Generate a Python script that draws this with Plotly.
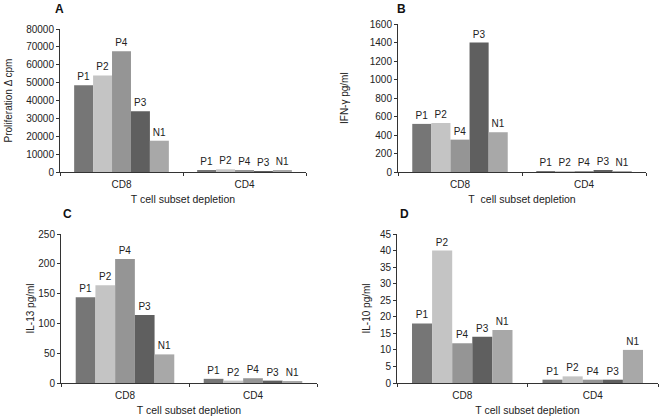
import plotly.graph_objects as go

categories = ["CD8", "CD4"]
series_names = ["P1", "P2", "P4", "P3", "N1"]
series_colors = ["#767676", "#c4c4c4", "#959595", "#5f5f5f", "#a8a8a8"]

# values per panel: [CD8, CD4] for each series
prolif = {"P1": [48500, 600], "P2": [54000, 1500], "P4": [67500, 600], "P3": [34000, 300], "N1": [17500, 700]}
ifng = {"P1": [520, 3], "P2": [530, 2], "P4": [350, 3], "P3": [1400, 12], "N1": [430, 3]}
il13 = {"P1": [144, 7], "P2": [164, 4], "P4": [208, 8], "P3": [114, 4], "N1": [48, 3]}
il10 = {"P1": [18, 1], "P2": [40, 2], "P4": [12, 1], "P3": [14, 1], "N1": [16, 10]}

W, H = 661, 417

panels = [
    dict(data=prolif, letter="A", ytitle="Proliferation \u0394 cpm", xtitle="T cell subset depletion",
         x0=60, x1=306, yz=172, yt=29, ymax=80000, dtick=10000, ytx=8, letter_xy=(59, 9)),
    dict(data=ifng, letter="B", ytitle="IFN-\u03b3 pg/ml", xtitle="T\u00a0 cell subset depletion",
         x0=398, x1=646, yz=172, yt=24, ymax=1600, dtick=200, ytx=345, letter_xy=(401, 9)),
    dict(data=il13, letter="C", ytitle="IL-13 pg/ml", xtitle="T cell subset depletion",
         x0=61, x1=317, yz=383, yt=234, ymax=250, dtick=50, ytx=30, letter_xy=(67, 214)),
    dict(data=il10, letter="D", ytitle="IL-10 pg/ml", xtitle="T cell subset depletion",
         x0=397, x1=658, yz=383, yt=234, ymax=45, dtick=5, ytx=366, letter_xy=(404, 214)),
]

FONT = "Liberation Sans, Arial, sans-serif"
fig = go.Figure()
annotations = []
for i, p in enumerate(panels, start=1):
    xa = "x" if i == 1 else f"x{i}"
    ya = "y" if i == 1 else f"y{i}"
    for name, col in zip(series_names, series_colors):
        vals = p["data"][name]
        fig.add_trace(go.Bar(
            x=categories, y=vals, name=name, marker=dict(color=col, line=dict(width=0)),
            text=[name, name], textposition="outside", cliponaxis=False,
            textfont=dict(family=FONT, size=10, color="#222"),
            xaxis=xa, yaxis=ya, showlegend=False, hoverinfo="skip",
        ))
    xk = "xaxis" if i == 1 else f"xaxis{i}"
    yk = "yaxis" if i == 1 else f"yaxis{i}"
    fig.layout[xk] = dict(
        domain=[p["x0"] / W, p["x1"] / W], anchor=ya, type="category", automargin=False,
        showline=True, linecolor="#333", linewidth=1, ticks="outside", ticklen=3,
        tickcolor="#333", tickson="boundaries", showgrid=False, zeroline=False,
        ticklabelstandoff=3,
        tickfont=dict(family=FONT, size=10, color="#222"),
        title=dict(text=p["xtitle"], font=dict(family=FONT, size=10.5, color="#222"), standoff=6),
    )
    fig.layout[yk] = dict(
        domain=[(H - p["yz"]) / H, (H - p["yt"]) / H], anchor=xa, automargin=False,
        range=[0, p["ymax"]], dtick=p["dtick"], tickformat="d", showline=True, linecolor="#333", linewidth=1,
        ticks="outside", ticklen=3, tickcolor="#333", showgrid=False, zeroline=False,
        tickfont=dict(family=FONT, size=10, color="#222"),
    )
    annotations.append(dict(
        text=p["ytitle"], x=p["ytx"] / W, y=(H - (p["yz"] + p["yt"]) / 2) / H,
        xref="paper", yref="paper", textangle=-90, showarrow=False,
        font=dict(family=FONT, size=10, color="#222"), xanchor="center", yanchor="middle",
    ))
    lx, ly = p["letter_xy"]
    annotations.append(dict(
        text="<b>" + p["letter"] + "</b>", x=lx / W, y=(H - ly) / H, xref="paper", yref="paper",
        showarrow=False, font=dict(family=FONT, size=12, color="#111"),
        xanchor="center", yanchor="middle",
    ))

fig.update_layout(
    width=W, height=H, margin=dict(l=0, r=0, t=0, b=0),
    paper_bgcolor="white", plot_bgcolor="white",
    barmode="group", bargap=0.23, bargroupgap=0,
    annotations=annotations,
)
fig.write_html("out.html", config={"displayModeBar": False},
               post_script="document.body.style.margin='0';document.body.style.overflow='hidden';")
